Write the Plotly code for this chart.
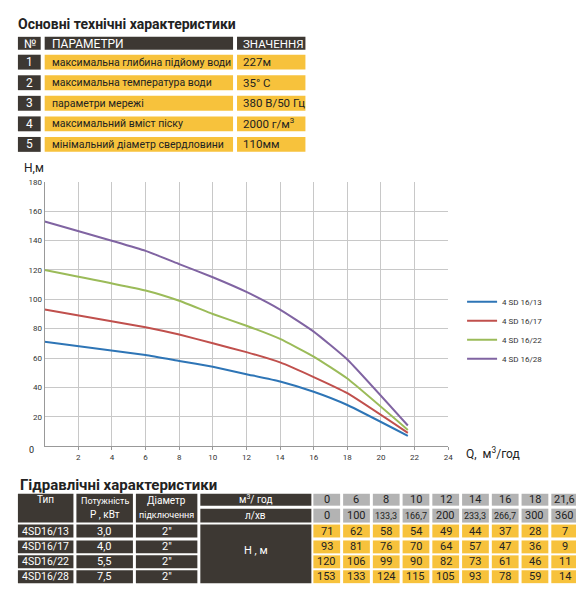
import plotly.graph_objects as go

# ── дані ─────────────────────────────────────
q_m3h = [0, 6, 8, 10, 12, 14, 16, 18, 21.6]
q_lmin = ["0", "100", "133,3", "166,7", "200", "233,3", "266,7", "300", "360"]
q_labels = ["0", "6", "8", "10", "12", "14", "16", "18", "21,6"]
models = ["4SD16/13", "4SD16/17", "4SD16/22", "4SD16/28"]
legend_names = ["4 SD 16/13", "4 SD 16/17", "4 SD 16/22", "4 SD 16/28"]
power_kw = ["3,0", "4,0", "5,5", "7,5"]
diameter = ['2"', '2"', '2"', '2"']
head_m = [
    [71, 62, 58, 54, 49, 44, 37, 28, 7],
    [93, 81, 76, 70, 64, 57, 47, 36, 9],
    [120, 106, 99, 90, 82, 73, 61, 46, 11],
    [153, 133, 124, 115, 105, 93, 78, 59, 14],
]
line_colors = ["#2e75b6", "#c0504d", "#9bbb59", "#8064a2"]

spec_params = [
    "максимальна глибина підйому води",
    "максимальна температура води",
    "параметри мережі",
    "максимальний вміст піску",
    "мінімальний діаметр свердловини",
]
spec_values = ["227м", "35° C", "380 В/50 Гц", "2000 г/м<sup>3</sup>", "110мм"]

W, H = 584, 600
FONT = "Roboto, Liberation Sans, sans-serif"
DARK = "#3d3833"
YELLOW = "#f7c23c"
GRAY = "#b3b3b3"


def px(x):
    return x / W


def py(y):
    return 1 - y / H


shapes, ann = [], []


def box(x0, y0, x1, y1, color):
    shapes.append(dict(type="rect", xref="paper", yref="paper",
                       x0=px(x0), x1=px(x1), y0=py(y1), y1=py(y0),
                       fillcolor=color, line=dict(width=0), layer="below"))


def text(x, y, s, size=12, color="#222", anchor="left", bold=False):
    if bold:
        s = f"<b>{s}</b>"
    ann.append(dict(x=px(x), y=py(y), xref="paper", yref="paper", text=s,
                    showarrow=False, xanchor=anchor, yanchor="middle",
                    font=dict(size=size, color=color, family=FONT)))


fig = go.Figure()
for name, vals, c in zip(legend_names, head_m, line_colors):
    fig.add_trace(go.Scatter(x=q_m3h, y=vals, name=name, mode="lines",
                             line=dict(color=c, width=2, shape="spline", smoothing=0.4)))

# ── верхня таблиця ───────────────────────────
text(8, 12, "Основні технічні характеристики", size=14, bold=True)
box(10, 25, 33, 38, DARK)
box(37, 25, 227, 38, DARK)
box(231, 25, 300, 38, DARK)
text(14, 32, "№", 12, "white")
text(42, 32, "ПАРАМЕТРИ", 12, "white")
text(235, 32, "ЗНАЧЕННЯ", 11.5, "white")
for i, (p, v) in enumerate(zip(spec_params, spec_values)):
    y0 = 43 + i * 20.7
    y1 = y0 + 15
    box(10, y0, 33, y1, DARK)
    box(37, y0, 227, y1, YELLOW)
    box(231, y0, 300, y1, YELLOW)
    text(21.5, (y0 + y1) / 2, str(i + 1), 12, "white", "center")
    text(42, (y0 + y1) / 2, p, 10.5)
    text(235, (y0 + y1) / 2, v, 11.5)

# ── графік ───────────────────────────────────
text(14, 157, "H,м", 12)
text(460, 444, "Q,  м<sup>3</sup>/год", 12)
text(24, 441, "0", 9, anchor="center")

# ── нижня таблиця ────────────────────────────
text(10, 476, "Гідравлічні характеристики", size=15, bold=True)
box(10, 485, 66, 514, DARK)
box(69, 485, 126, 514, DARK)
box(129, 485, 191, 514, DARK)
box(194, 485, 306, 497, DARK)
box(194, 500, 306, 514, DARK)
text(38, 491, "Тип", 10, "white", "center")
text(97.5, 492, "Потужність", 9, "white", "center")
text(97.5, 506, "P , кВт", 10, "white", "center")
text(160, 492, "Діаметр", 10, "white", "center")
text(160, 506, "підключення", 9, "white", "center")
text(250, 490, "м<sup>3</sup>/ год", 10, "white", "center")
text(250, 507, "л/хв", 10, "white", "center")
row_y = [516, 532, 547, 562]
for r, (m, pw, d) in enumerate(zip(models, power_kw, diameter)):
    y0 = row_y[r]
    box(10, y0, 66, y0 + 13, DARK)
    box(69, y0, 126, y0 + 13, DARK)
    box(129, y0, 191, y0 + 13, DARK)
    text(38, y0 + 6.5, m, 10.5, "white", "center")
    text(97.5, y0 + 6.5, pw, 11, "white", "center")
    text(160, y0 + 6.5, d, 11, "white", "center")
box(194, 516, 306, 575, DARK)
text(250, 542, "Н , м", 11, "white", "center")
for j, (ql, lm) in enumerate(zip(q_labels, q_lmin)):
    x0 = 308 + j * 30
    x1 = x0 + 27
    xc = (x0 + x1) / 2
    box(x0, 485, x1, 497, GRAY)
    box(x0, 500, x1, 514, GRAY)
    text(xc, 491, ql, 11, anchor="center")
    text(xc, 507, lm, 9 if "," in lm else 11, anchor="center")
    for r in range(len(models)):
        y0 = row_y[r]
        box(x0, y0, x1, y0 + 13, YELLOW)
        text(xc, y0 + 6.5, str(head_m[r][j]), 11, anchor="center")

fig.update_layout(
    width=W, height=H,
    margin=dict(l=0, r=0, t=0, b=0),
    paper_bgcolor="white", plot_bgcolor="white",
    shapes=shapes, annotations=ann,
    showlegend=True,
    legend=dict(x=px(458), y=py(277), xanchor="left", yanchor="top",
                font=dict(size=8, family=FONT, color="#333"),
                tracegroupgap=2, itemwidth=30, bgcolor="rgba(0,0,0,0)"),
    xaxis=dict(domain=[px(37), px(444)], range=[0, 24],
               tickvals=list(range(2, 25, 2)), showgrid=True, gridcolor="#c8c8c8",
               showline=True, linecolor="#999", ticks="outside", ticklen=3,
               tickcolor="#999", tickfont=dict(size=8, family=FONT, color="#333"),
               zeroline=False),
    yaxis=dict(domain=[py(437), py(171)], range=[0, 180],
               tickvals=list(range(20, 181, 20)), showgrid=True, gridcolor="#c8c8c8",
               showline=True, linecolor="#999", tickfont=dict(size=8, family=FONT, color="#333"),
               zeroline=False),
)

fig.write_html("out.html")
